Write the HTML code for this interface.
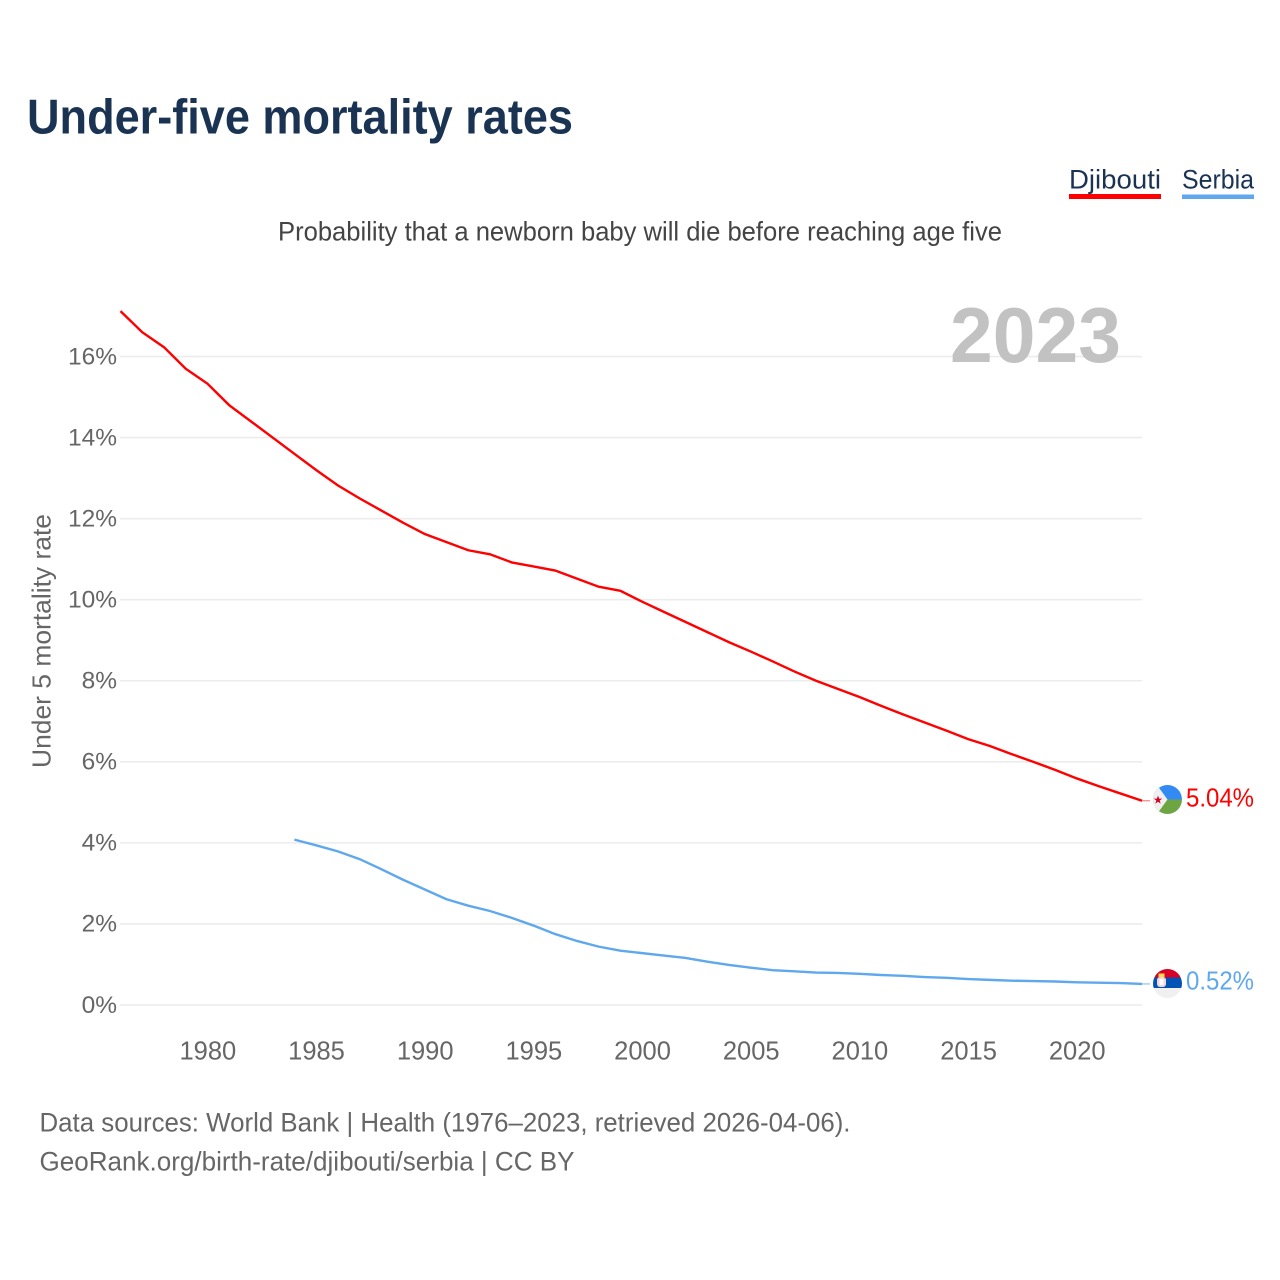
<!DOCTYPE html>
<html lang="en">
<head>
<meta charset="utf-8">
<title>Under-five mortality rates</title>
<style>
html,body{margin:0;padding:0;background:#fff;width:1280px;height:1280px;overflow:hidden}
svg{display:block}
text{font-family:"Liberation Sans",sans-serif}
</style>
</head>
<body>
<svg id="chart" xmlns="http://www.w3.org/2000/svg" width="1280" height="1280" viewBox="0 0 1280 1280">
  <rect width="1280" height="1280" fill="#fff"/>
  <text x="27" y="133.500" font-size="49" font-weight="700" fill="#1a3353" textLength="546" lengthAdjust="spacingAndGlyphs">Under-five mortality rates</text>
  <g>
    <g>
      <text x="1069" y="188.500" font-size="27" fill="#1a3353" textLength="92" lengthAdjust="spacingAndGlyphs">Djibouti</text>
      <rect x="1069" y="194" width="92" height="5" fill="#ff0000"/>
    </g>
    <g>
      <text x="1182" y="188.500" font-size="27" fill="#1a3353" textLength="72" lengthAdjust="spacingAndGlyphs">Serbia</text>
      <rect x="1182" y="194.500" width="72" height="4.500" fill="#5fa8ee"/>
    </g>
  </g>
  <text x="278" y="240.500" font-size="27" fill="#444" textLength="724" lengthAdjust="spacingAndGlyphs">Probability that a newborn baby will die before reaching age five</text>
  <g id="grid"></g>
  <g id="yticks"></g>
  <g id="xticks"></g>
  <text x="950" y="362" font-size="78" font-weight="700" fill="#bfbfbf" fill-opacity="0.96" textLength="171" lengthAdjust="spacingAndGlyphs">2023</text>
  <text transform="translate(50.500,768) rotate(-90)" font-size="26" fill="#666" textLength="254" lengthAdjust="spacingAndGlyphs">Under 5 mortality rate</text>
  <g id="series"></g>

  <g>
    <clipPath id="clipDj"><circle cx="1167.500" cy="799.500" r="14.500"/></clipPath>
    <g clip-path="url(#clipDj)">
      <rect x="1153" y="785" width="29" height="14.500" fill="#338af3"/>
      <rect x="1153" y="799.500" width="29" height="14.500" fill="#6da544"/>
      <polygon points="1153,785 1157,785 1167.500,799.500 1157,814 1153,814" fill="#f0f0f0"/>
      <polygon points="1158,795.500 1159.100,798.600 1162.300,798.600 1159.700,800.500 1160.700,803.600 1158,801.700 1155.300,803.600 1156.300,800.500 1153.700,798.600 1156.900,798.600" fill="#d80027"/>
    </g>
  </g>
  <g>
    <clipPath id="clipRs"><circle cx="1167.500" cy="983.500" r="14.500"/></clipPath>
    <g clip-path="url(#clipRs)">
      <rect x="1153" y="969" width="29" height="8.500" fill="#d80027"/>
      <rect x="1153" y="977.500" width="29" height="10.500" fill="#0052b4"/>
      <rect x="1153" y="988" width="29" height="10" fill="#f0f0f0"/>
      <rect x="1158.500" y="973.500" width="6" height="3.500" fill="#ffda44"/>
      <rect x="1157" y="977" width="9" height="10" rx="3" fill="#f5d5d5"/>
      <rect x="1159.500" y="979" width="4" height="6" rx="1" fill="#ffffff"/>
    </g>
  </g>
  <text x="1186" y="806.500" font-size="26" fill="#ff0000" textLength="68" lengthAdjust="spacingAndGlyphs">5.04%</text>
  <text x="1186" y="989.500" font-size="26" fill="#5fa8ee" textLength="68" lengthAdjust="spacingAndGlyphs">0.52%</text>

  <text x="39.500" y="1131.500" font-size="27" fill="#666" textLength="811" lengthAdjust="spacingAndGlyphs">Data sources: World Bank | Health (1976–2023, retrieved 2026-04-06).</text>
  <text x="39.500" y="1170.500" font-size="27" fill="#666" textLength="535" lengthAdjust="spacingAndGlyphs">GeoRank.org/birth-rate/djibouti/serbia | CC BY</text>
</svg>
<script>
const yTicks = [0, 2, 4, 6, 8, 10, 12, 14, 16];
const xTicks = [1980, 1985, 1990, 1995, 2000, 2005, 2010, 2015, 2020];
const djiboutiStart = 1976;
const djiboutiValues = [17.12, 16.6, 16.23, 15.7, 15.33, 14.8, 14.4, 14.0, 13.6, 13.2, 12.82, 12.5, 12.2, 11.9, 11.62, 11.42, 11.22, 11.12, 10.92, 10.82, 10.72, 10.52, 10.32, 10.22, 9.95, 9.7, 9.45, 9.2, 8.95, 8.72, 8.48, 8.23, 8.0, 7.8, 7.6, 7.38, 7.17, 6.97, 6.77, 6.56, 6.39, 6.19, 6.0, 5.8, 5.59, 5.4, 5.22, 5.04];
const serbiaStart = 1984;
const serbiaValues = [4.08, 3.94, 3.79, 3.6, 3.35, 3.09, 2.85, 2.61, 2.45, 2.32, 2.15, 1.96, 1.75, 1.58, 1.44, 1.34, 1.28, 1.22, 1.16, 1.07, 0.99, 0.92, 0.86, 0.83, 0.8, 0.79, 0.77, 0.74, 0.72, 0.69, 0.67, 0.64, 0.62, 0.6, 0.59, 0.58, 0.56, 0.55, 0.54, 0.52];

const NS = 'http://www.w3.org/2000/svg';
const xScale = function (year) { return 120.5 + (year - 1976) * 21.735; };
const yScale = function (value) { return 1005 - value * 40.53; };

const grid = document.getElementById('grid');
const yGroup = document.getElementById('yticks');
const xGroup = document.getElementById('xticks');
const seriesGroup = document.getElementById('series');

yTicks.forEach(function (v) {
  const line = document.createElementNS(NS, 'line');
  
  
  line.setAttribute('x1', 120);
  line.setAttribute('x2', 1142);
  line.setAttribute('y1', yScale(v));
  line.setAttribute('y2', yScale(v));
  line.setAttribute('stroke', '#ececec');
  line.setAttribute('stroke-width', '1.6');
  grid.appendChild(line);

  const label = document.createElementNS(NS, 'text');
  
  
  label.setAttribute('x', 117);
  label.setAttribute('y', yScale(v) + 7.8);
  label.setAttribute('text-anchor', 'end');
  label.setAttribute('font-size', '24.5');
  label.setAttribute('fill', '#666');
  label.textContent = v + '%';
  yGroup.appendChild(label);
});

xTicks.forEach(function (year) {
  const label = document.createElementNS(NS, 'text');
  
  
  label.setAttribute('x', xScale(year) + 0.4);
  label.setAttribute('y', 1059.5);
  label.setAttribute('text-anchor', 'middle');
  label.setAttribute('font-size', '25.5');
  label.setAttribute('fill', '#666');
  label.textContent = year;
  xGroup.appendChild(label);
});

function linePoints(start, values) {
  return values.map(function (v, i) {
    return xScale(start + i).toFixed(2) + ',' + yScale(v).toFixed(2);
  }).join(' ');
}

const djiboutiLine = document.createElementNS(NS, 'polyline');


djiboutiLine.setAttribute('points', linePoints(djiboutiStart, djiboutiValues));
djiboutiLine.setAttribute('fill', 'none');
djiboutiLine.setAttribute('stroke', '#ff0000');
djiboutiLine.setAttribute('stroke-width', '2.4');
seriesGroup.appendChild(djiboutiLine);

const serbiaLine = document.createElementNS(NS, 'polyline');


serbiaLine.setAttribute('points', linePoints(serbiaStart, serbiaValues));
serbiaLine.setAttribute('fill', 'none');
serbiaLine.setAttribute('stroke', '#5fa8ee');
serbiaLine.setAttribute('stroke-width', '2.4');
seriesGroup.appendChild(serbiaLine);

const djiboutiLead = document.createElementNS(NS, 'line');


djiboutiLead.setAttribute('x1', xScale(2023));
djiboutiLead.setAttribute('x2', xScale(2023) + 8);
djiboutiLead.setAttribute('y1', yScale(djiboutiValues[djiboutiValues.length - 1]));
djiboutiLead.setAttribute('y2', yScale(djiboutiValues[djiboutiValues.length - 1]));
djiboutiLead.setAttribute('stroke', '#ff0000');
djiboutiLead.setAttribute('stroke-opacity', '0.5');
djiboutiLead.setAttribute('stroke-width', '1.2');
seriesGroup.appendChild(djiboutiLead);

const serbiaLead = document.createElementNS(NS, 'line');


serbiaLead.setAttribute('x1', xScale(2023));
serbiaLead.setAttribute('x2', xScale(2023) + 8);
serbiaLead.setAttribute('y1', yScale(serbiaValues[serbiaValues.length - 1]));
serbiaLead.setAttribute('y2', yScale(serbiaValues[serbiaValues.length - 1]));
serbiaLead.setAttribute('stroke', '#5fa8ee');
serbiaLead.setAttribute('stroke-opacity', '0.7');
serbiaLead.setAttribute('stroke-width', '1.2');
seriesGroup.appendChild(serbiaLead);
</script>
</body>
</html>
